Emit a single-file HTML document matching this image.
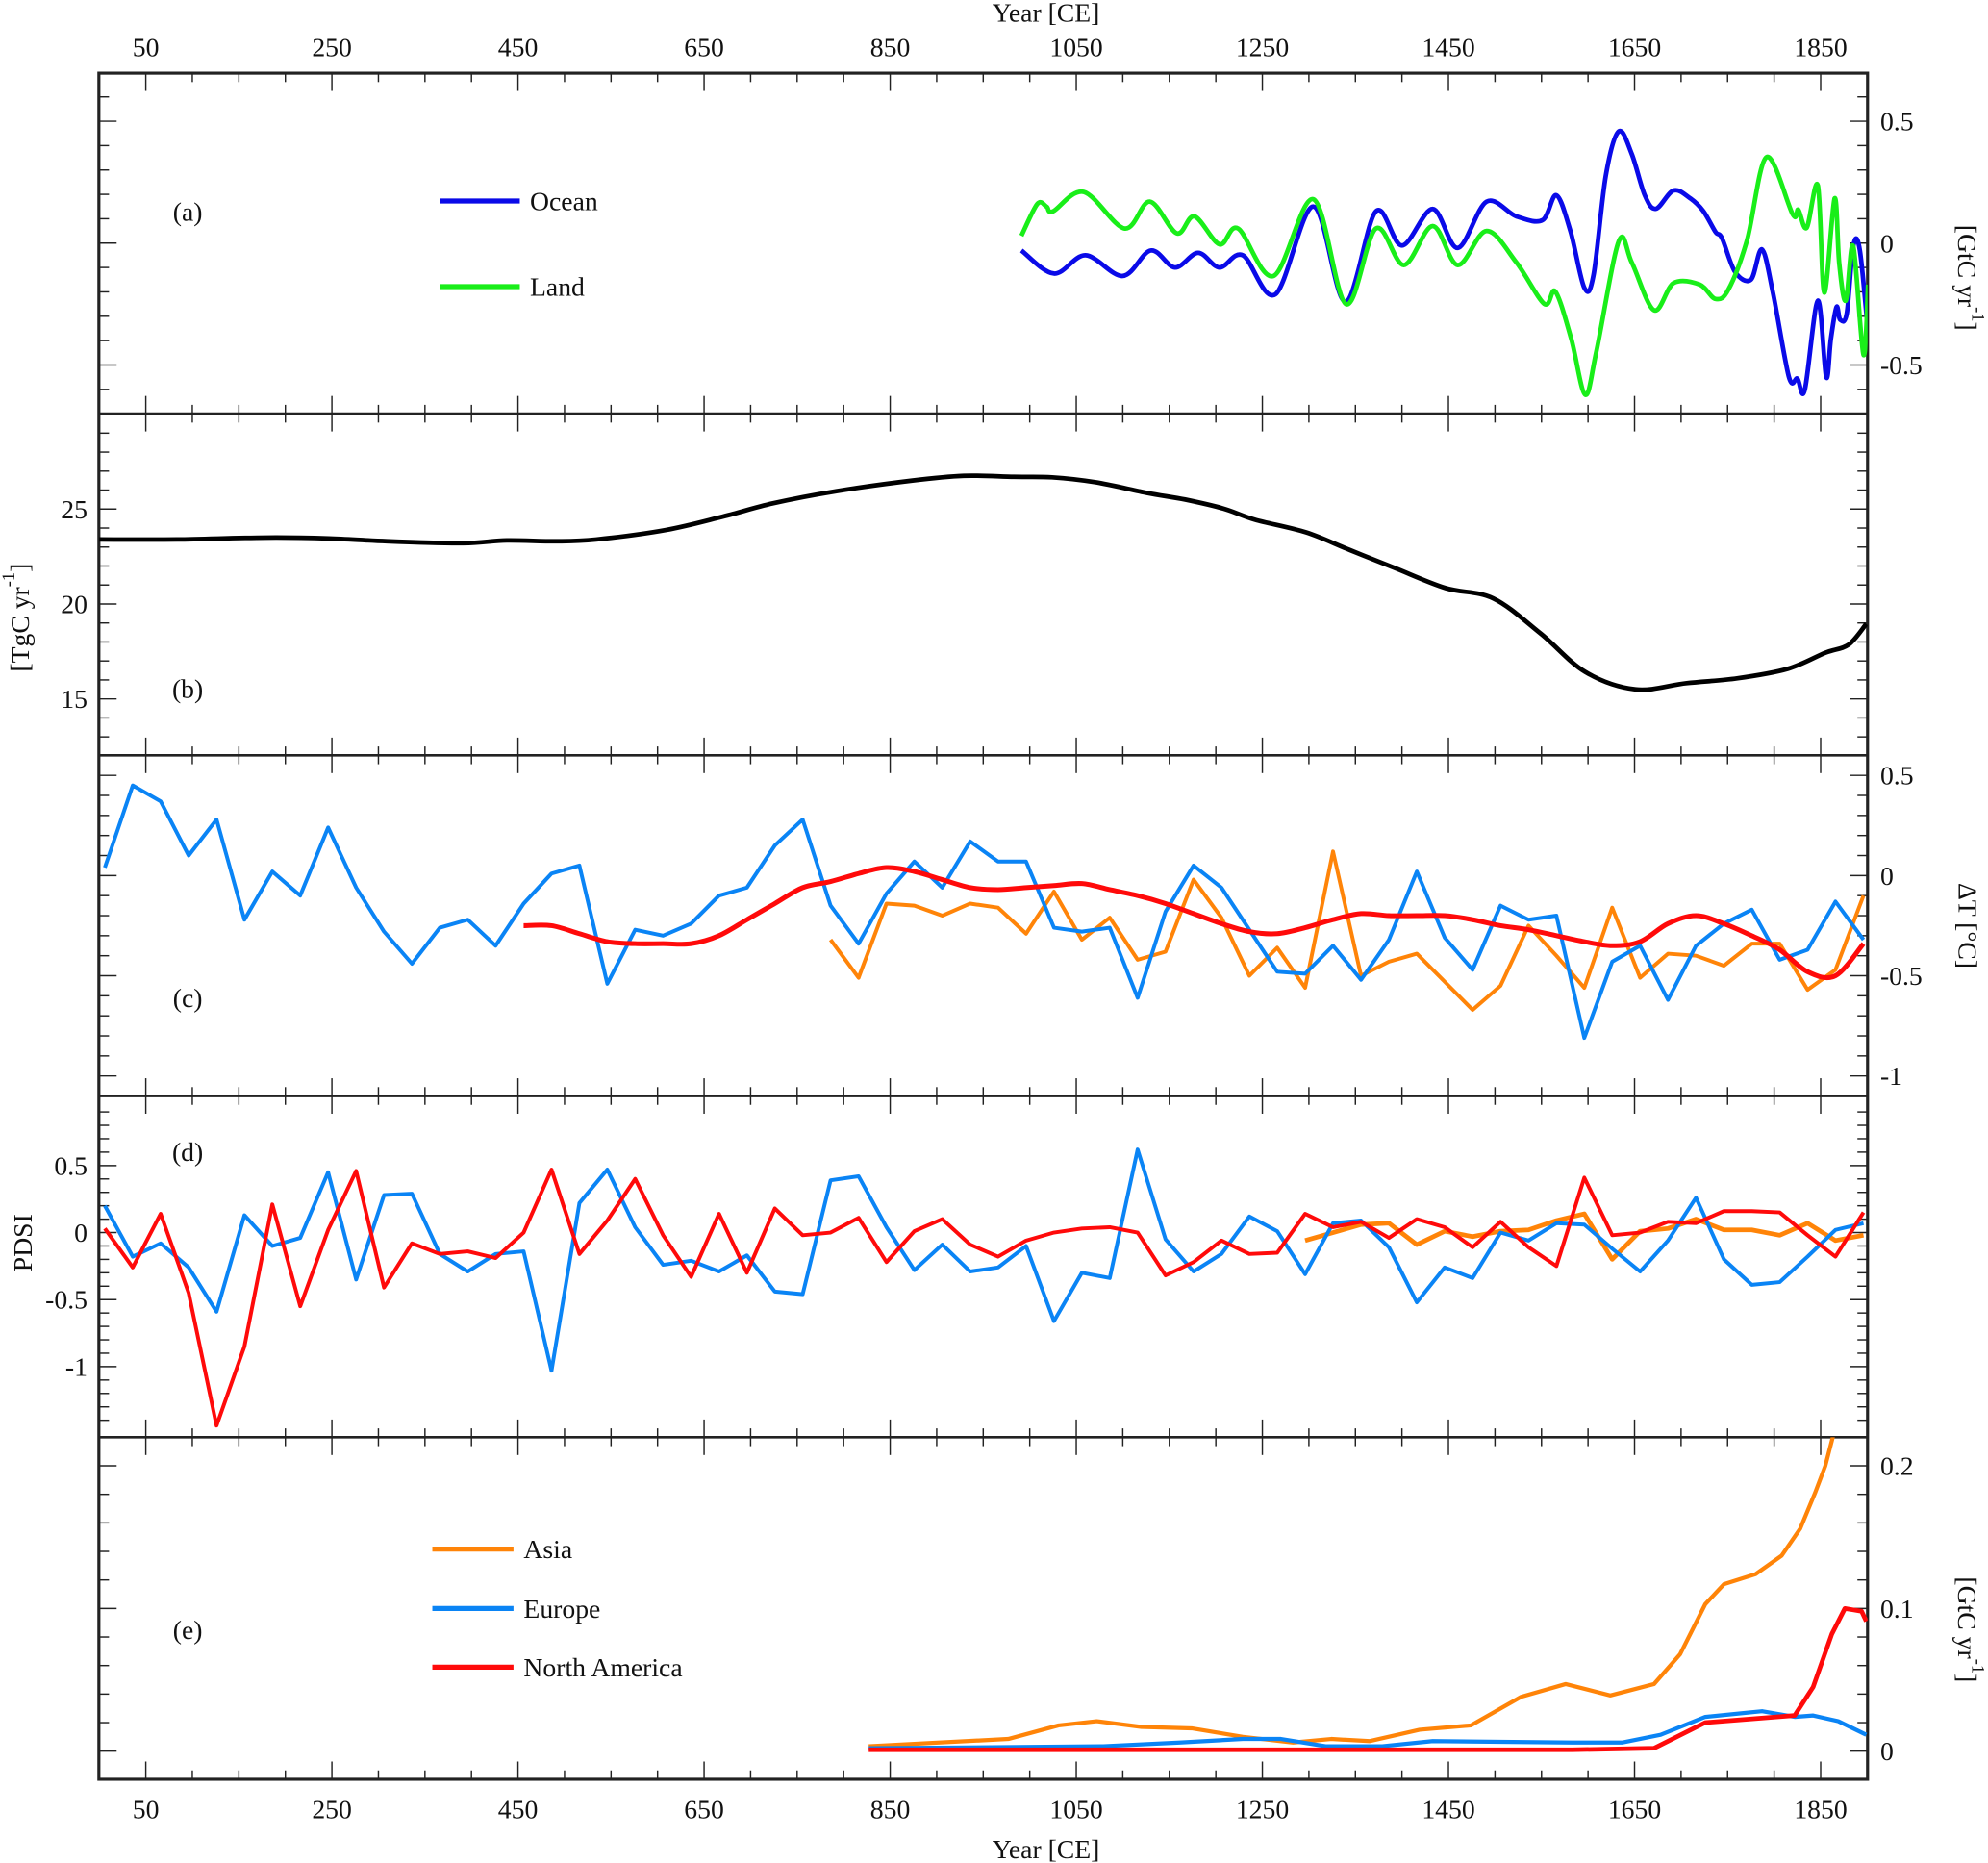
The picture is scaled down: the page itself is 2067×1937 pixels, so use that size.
<!DOCTYPE html>
<html><head><meta charset="utf-8"><title>Carbon flux, temperature and PDSI reconstructions</title>
<style>html,body{margin:0;padding:0;background:#fff}svg{display:block}text{font-family:"Liberation Serif",serif;fill:#111}</style>
</head><body>
<svg id="fig" xmlns="http://www.w3.org/2000/svg" width="2067" height="1937" viewBox="0 0 1568 1469" preserveAspectRatio="none">
<rect x="0" y="0" width="1568" height="1469" fill="#fff"/>
</svg>
<script>
// ---------- panel (a) ----------
const oceanYears = [991,1026,1060,1100,1130,1156,1181,1204,1229,1264,1305,1339,1372,1400,1433,1460,1491,1523,1551,1566,1581,1596,1606,1619,1633,1647,1661,1673,1692,1710,1724,1737,1744,1758,1775,1787,1799,1816,1825,1833,1847,1856,1861,1867,1871,1878,1885,1892,1901];
const oceanVals = [-0.03,-0.125,-0.05,-0.135,-0.03,-0.10,-0.04,-0.10,-0.05,-0.21,0.15,-0.24,0.13,-0.01,0.14,-0.02,0.17,0.11,0.094,0.196,0.05,-0.183,-0.13,0.275,0.458,0.366,0.196,0.141,0.216,0.183,0.131,0.046,0.02,-0.118,-0.15,-0.026,-0.209,-0.55,-0.556,-0.602,-0.236,-0.55,-0.393,-0.262,-0.314,-0.288,-0.013,-0.026,-0.366];
const landYears = [991,1008,1018,1025,1058,1102,1129,1158,1177,1204,1224,1262,1305,1340,1372,1402,1433,1460,1491,1523,1553,1565,1582,1597,1609,1633,1647,1671,1692,1720,1737,1751,1771,1792,1820,1826,1835,1847,1854,1865,1870,1877,1885,1896,1901];
const landVals = [0.03,0.16,0.15,0.13,0.21,0.06,0.17,0.04,0.11,-0.005,0.06,-0.135,0.18,-0.25,0.06,-0.09,0.07,-0.09,0.05,-0.079,-0.249,-0.199,-0.393,-0.622,-0.445,0.007,-0.079,-0.275,-0.164,-0.17,-0.229,-0.19,0.013,0.353,0.118,0.137,0.063,0.236,-0.203,0.183,-0.085,-0.236,-0.013,-0.458,-0.17];
// ---------- panel (b) ----------
const fluxYears = [0,84,179,247,309,391,438,493,534,609,670,724,793,874,929,983,1024,1072,1126,1167,1208,1242,1297,1344,1392,1447,1498,1549,1597,1651,1706,1760,1815,1855,1880,1899];
const fluxVals = [23.4,23.4,23.5,23.45,23.3,23.2,23.35,23.3,23.4,23.9,24.6,25.3,25.95,26.5,26.75,26.7,26.67,26.4,25.85,25.5,25.03,24.44,23.77,22.84,21.9,20.84,20.3,18.45,16.42,15.5,15.83,16.08,16.59,17.43,17.85,18.95];
// ---------- panels (c) & (d): 30-year steps ----------
const stepYears = [6,36,66,96,126,156,186,216,246,276,306,336,366,396,426,456,486,516,546,576,606,636,666,696,726,756,786,816,846,876,906,936,966,996,1026,1056,1086,1116,1146,1176,1206,1236,1266,1296,1326,1356,1386,1416,1446,1476,1506,1536,1566,1596,1626,1656,1686,1716,1746,1776,1806,1836,1866,1896];
const tempEurope = [0.04,0.45,0.37,0.10,0.28,-0.22,0.02,-0.10,0.24,-0.06,-0.28,-0.44,-0.26,-0.22,-0.35,-0.14,0.01,0.05,-0.54,-0.27,-0.30,-0.24,-0.10,-0.06,0.15,0.28,-0.15,-0.34,-0.09,0.07,-0.06,0.17,0.07,0.07,-0.26,-0.28,-0.26,-0.61,-0.18,0.05,-0.06,-0.27,-0.48,-0.49,-0.35,-0.52,-0.32,0.02,-0.31,-0.47,-0.15,-0.22,-0.20,-0.81,-0.43,-0.35,-0.62,-0.35,-0.24,-0.17,-0.42,-0.37,-0.13,-0.32];
const tempAsiaStart = 26;
const tempAsia = [-0.32,-0.51,-0.14,-0.15,-0.20,-0.14,-0.16,-0.29,-0.08,-0.32,-0.21,-0.42,-0.38,-0.02,-0.21,-0.50,-0.36,-0.56,0.12,-0.50,-0.43,-0.39,-0.53,-0.67,-0.55,-0.25,-0.40,-0.56,-0.16,-0.51,-0.39,-0.40,-0.45,-0.34,-0.34,-0.57,-0.47,-0.10];
const tempNAStart = 15;
const tempNA = [-0.25,-0.25,-0.29,-0.33,-0.34,-0.34,-0.34,-0.30,-0.22,-0.14,-0.06,-0.03,0.01,0.04,0.02,-0.02,-0.06,-0.07,-0.06,-0.05,-0.04,-0.07,-0.10,-0.14,-0.19,-0.24,-0.28,-0.29,-0.26,-0.22,-0.19,-0.20,-0.20,-0.20,-0.22,-0.25,-0.27,-0.30,-0.33,-0.35,-0.33,-0.24,-0.20,-0.24,-0.30,-0.37,-0.48,-0.50,-0.34];
const pdsiEurope = [0.20,-0.18,-0.08,-0.26,-0.59,0.13,-0.10,-0.04,0.45,-0.35,0.28,0.29,-0.16,-0.29,-0.16,-0.14,-1.03,0.22,0.47,0.04,-0.24,-0.21,-0.29,-0.17,-0.44,-0.46,0.39,0.42,0.04,-0.28,-0.09,-0.29,-0.26,-0.10,-0.66,-0.30,-0.34,0.62,-0.05,-0.29,-0.16,0.12,0.01,-0.31,0.07,0.09,-0.11,-0.52,-0.26,-0.34,0.00,-0.06,0.07,0.06,-0.12,-0.29,-0.06,0.26,-0.20,-0.39,-0.37,-0.18,0.02,0.07];
const pdsiNA = [0.03,-0.26,0.14,-0.45,-1.44,-0.85,0.21,-0.55,0.02,0.46,-0.41,-0.08,-0.16,-0.14,-0.19,0.00,0.47,-0.16,0.09,0.40,-0.02,-0.33,0.14,-0.30,0.18,-0.02,0.00,0.11,-0.22,0.01,0.10,-0.09,-0.18,-0.06,0.00,0.03,0.04,0.00,-0.32,-0.22,-0.06,-0.16,-0.15,0.14,0.04,0.08,-0.04,0.10,0.04,-0.11,0.08,-0.11,-0.25,0.41,-0.02,0.00,0.08,0.07,0.16,0.16,0.15,-0.02,-0.18,0.15];
const pdsiAsiaStart = 43;
const pdsiAsia = [-0.06,0.00,0.06,0.07,-0.09,0.01,-0.03,0.01,0.02,0.09,0.14,-0.20,0.01,0.03,0.10,0.02,0.02,-0.02,0.07,-0.06,-0.02];
// ---------- panel (e) ----------
const asiaYears = [827,977,1031,1072,1120,1174,1229,1283,1324,1365,1419,1474,1528,1576,1624,1671,1699,1726,1746,1780,1808,1828,1844,1855,1865];
const asiaVals = [0.0035,0.0085,0.018,0.021,0.017,0.016,0.010,0.006,0.0085,0.007,0.015,0.018,0.038,0.047,0.039,0.047,0.068,0.103,0.117,0.124,0.137,0.156,0.181,0.2,0.225];
const europeYears = [827,1079,1161,1229,1270,1318,1379,1433,1583,1637,1678,1726,1787,1822,1842,1869,1899];
const europeVals = [0.002,0.0035,0.006,0.0085,0.0085,0.0035,0.0035,0.007,0.006,0.006,0.0115,0.024,0.028,0.024,0.025,0.021,0.0115];
const naYears = [827,1583,1671,1726,1822,1842,1862,1876,1885,1894,1899];
const naVals = [0.001,0.001,0.002,0.02,0.025,0.045,0.082,0.1,0.099,0.098,0.091];
// ---------- axes ----------
const yearTicks = ["50","250","450","650","850","1050","1250","1450","1650","1850"];
const ticksA = ["0.5","0","-0.5"];
const ticksB = ["25","20","15"];
const ticksC = ["0.5","0","-0.5","-1"];
const ticksD = ["0.5","0","-0.5","-1"];
const ticksE = ["0.2","0.1","0"];

const NS = "http://www.w3.org/2000/svg";
const svg = document.getElementById('fig');
const L = 78, R = 1473;
const FS = 21;
function X(y){ return 115 + (y - 50) * 0.73389; }
const panels = {
  a:{top:57.7,bot:326.2,Y:v=>191.7-v*192.2,minor:[-0.6,0.6,0.1],major:[-0.5,0,0.5]},
  b:{top:326.2,bot:595.6,Y:v=>401.4-(v-25)*14.97,minor:[13,29,1],major:[15,20,25]},
  c:{top:595.6,bot:864.2,Y:v=>690.4-v*158,minor:[-1,0.5,0.1],major:[-1,-0.5,0,0.5]},
  d:{top:864.2,bot:1133.3,Y:v=>971.9-v*105.7,minor:[-1.4,0.9,0.1],major:[-1,-0.5,0,0.5]},
  e:{top:1133.3,bot:1403,Y:v=>1380.8-v*1125,minor:[0,0.22,0.02],major:[0,0.1,0.2]}
};
function mk(tag, attrs, parent){
  const e = document.createElementNS(NS, tag);
  for (const k in attrs) e.setAttribute(k, attrs[k]);
  (parent||svg).appendChild(e);
  return e;
}
const defs = mk('defs',{});
for (const k in panels){
  const p = panels[k];
  const cp = mk('clipPath',{id:'clip-'+k},defs);
  mk('rect',{x:L,y:p.top,width:R-L,height:p.bot-p.top},cp);
}
const tg = mk('g',{stroke:'#222','stroke-width':'1.1',fill:'none'});


const bounds = [57.7,326.2,595.6,864.2,1133.3,1403];
bounds.forEach((by,bi)=>{
  for (let yr=50; yr<=1850; yr+=50){
    const maj = ((yr-50)%200===0);
    const len = maj?14:7;
    const x = X(yr);
    const y1 = bi===0?by:by-len;
    const y2 = bi===bounds.length-1?by:by+len;
    mk('line',{x1:x,x2:x,y1:y1,y2:y2},tg);
  }
});
for (const k in panels){
  const p = panels[k];
  const [a0,a1,st] = p.minor;
  const n = Math.round((a1-a0)/st);
  for (let i=0;i<=n;i++){
    const v = a0+i*st;
    const maj = p.major.some(m=>Math.abs(m-v)<1e-6);
    const len = maj?14:8;
    const y = p.Y(v);
    mk('line',{x1:L,x2:L+len,y1:y,y2:y},tg);
    mk('line',{x1:R-len,x2:R,y1:y,y2:y},tg);
  }
}
const fr = mk('rect',{x:L,y:57.7,width:R-L,height:1403-57.7,fill:'none',stroke:'#222','stroke-width':'2.4'});


[326.2,595.6,864.2,1133.3].forEach(by=>{
  const d = mk('line',{x1:L,x2:R,y1:by,y2:by,stroke:'#222','stroke-width':'2'});
  
  
});
function txt(s, x, y, size, anchor, name, rot){
  const t = mk('text',{x:x,y:y,'font-size':size,'text-anchor':anchor||'start','dominant-baseline':'central'});
  if (rot) t.setAttribute('transform','rotate('+rot+' '+x+' '+y+')');
  t.textContent = s;
  
  
  return t;
}
yearTicks.forEach(s=>{
  const x = X(+s);
  txt(s, x, 37, FS, 'middle', 'top-x-tick-label');
  txt(s, x, 1426.5, FS, 'middle', 'bottom-x-tick-label');
});
txt('Year [CE]', 825, 10, FS, 'middle', 'top-x-axis-title');
txt('Year [CE]', 825, 1458, FS, 'middle', 'bottom-x-axis-title');
ticksA.forEach(s=>txt(s, 1483, panels.a.Y(+s), FS, 'start', 'panel-a-y-tick-label'));
ticksB.forEach(s=>txt(s, 69, panels.b.Y(+s), FS, 'end', 'panel-b-y-tick-label'));
ticksC.forEach(s=>txt(s, 1483, panels.c.Y(+s), FS, 'start', 'panel-c-y-tick-label'));
ticksD.forEach(s=>txt(s, 69, panels.d.Y(+s), FS, 'end', 'panel-d-y-tick-label'));
ticksE.forEach(s=>txt(s, 1483, panels.e.Y(+s), FS, 'start', 'panel-e-y-tick-label'));
function unitTitle(pre, x, y, rot, name){
  const t = mk('text',{x:x,y:y,'font-size':FS,'text-anchor':'middle','dominant-baseline':'central',transform:'rotate('+rot+' '+x+' '+y+')'});
  
  
  const a = mk('tspan',{},t); a.textContent = pre;
  const b = mk('tspan',{dy:'-8','font-size':14},t); b.textContent = '-1';
  const c = mk('tspan',{dy:'8'},t); c.textContent = ']';
}
unitTitle('[GtC yr', 1552, 219, 90, 'panel-a-y-axis-title');
unitTitle('[TgC yr', 15, 487, -90, 'panel-b-y-axis-title');
txt('\u0394T [\u00B0C]', 1552, 730, FS, 'middle', 'panel-c-y-axis-title', 90);
txt('PDSI', 18, 980, FS, 'middle', 'panel-d-y-axis-title', -90);
unitTitle('[GtC yr', 1552, 1285, 90, 'panel-e-y-axis-title');
txt('(a)', 148, 167, FS, 'middle', 'panel-a-label');
txt('(b)', 148, 543, FS, 'middle', 'panel-b-label');
txt('(c)', 148, 787, FS, 'middle', 'panel-c-label');
txt('(d)', 148, 908, FS, 'middle', 'panel-d-label');
txt('(e)', 148, 1285, FS, 'middle', 'panel-e-label');
function pts(years, vals, Y){ return years.map((yr,i)=>[X(yr), Y(vals[i])]); }
function linePath(p){ return p.map((q,i)=>(i?'L':'M')+q[0].toFixed(1)+' '+q[1].toFixed(1)).join(''); }
function smoothPath(p){
  let d = 'M'+p[0][0].toFixed(1)+' '+p[0][1].toFixed(1);
  for (let i=0;i<p.length-1;i++){
    const p0=p[i-1]||p[i], p1=p[i], p2=p[i+1], p3=p[i+2]||p2;
    const c1=[p1[0]+(p2[0]-p0[0])/6, p1[1]+(p2[1]-p0[1])/6];
    const c2=[p2[0]-(p3[0]-p1[0])/6, p2[1]-(p3[1]-p1[1])/6];
    d += 'C'+c1[0].toFixed(1)+' '+c1[1].toFixed(1)+' '+c2[0].toFixed(1)+' '+c2[1].toFixed(1)+' '+p2[0].toFixed(1)+' '+p2[1].toFixed(1);
  }
  return d;
}
function series(panel, p, color, width, smooth, name){
  const e = mk('path',{d: smooth?smoothPath(p):linePath(p), fill:'none', stroke:color,'stroke-width':width,'stroke-linejoin':'round','clip-path':'url(#clip-'+panel+')'});
  
  
}
const BLUE_OCEAN='#0a0ae8', GREEN='#19ee19', EURO='#0a84f5', ASIA='#ff8408', RED='#ff0a0a';
series('a', pts(oceanYears, oceanVals, panels.a.Y), BLUE_OCEAN, 3.6, true, 'ocean-line');
series('a', pts(landYears, landVals, panels.a.Y), GREEN, 3.6, true, 'land-line');
series('b', pts(fluxYears, fluxVals, panels.b.Y), '#000', 3.6, true, 'flux-line');
series('c', pts(stepYears.slice(tempAsiaStart, tempAsiaStart+tempAsia.length), tempAsia, panels.c.Y), ASIA, 3, false, 'temp-asia-line');
series('c', pts(stepYears, tempEurope, panels.c.Y), EURO, 3, false, 'temp-europe-line');
series('c', pts(stepYears.slice(tempNAStart, tempNAStart+tempNA.length), tempNA, panels.c.Y), RED, 3.8, true, 'temp-north-america-line');
series('d', pts(stepYears.slice(pdsiAsiaStart, pdsiAsiaStart+pdsiAsia.length), pdsiAsia, panels.d.Y), ASIA, 3.6, false, 'pdsi-asia-line');
series('d', pts(stepYears, pdsiEurope, panels.d.Y), EURO, 3, false, 'pdsi-europe-line');
series('d', pts(stepYears, pdsiNA, panels.d.Y), RED, 3, false, 'pdsi-north-america-line');
series('e', pts(asiaYears, asiaVals, panels.e.Y), ASIA, 3.2, false, 'emission-asia-line');
series('e', pts(europeYears, europeVals, panels.e.Y), EURO, 3.2, false, 'emission-europe-line');
series('e', pts(naYears, naVals, panels.e.Y), RED, 3.6, false, 'emission-north-america-line');
function legend(x1, x2, y, color, label, name){
  const g = mk('g',{});
  
  
  mk('line',{x1:x1,x2:x2,y1:y,y2:y,stroke:color,'stroke-width':4},g);
  const t = mk('text',{x:x2+8,y:y,'font-size':FS,'dominant-baseline':'central'},g);
  t.textContent = label;
}
legend(347, 410, 158.5, BLUE_OCEAN, 'Ocean', 'legend-entry-ocean');
legend(347, 410, 226, GREEN, 'Land', 'legend-entry-land');
legend(341, 405, 1221.5, ASIA, 'Asia', 'legend-entry-asia');
legend(341, 405, 1268.3, EURO, 'Europe', 'legend-entry-europe');
legend(341, 405, 1314.6, RED, 'North America', 'legend-entry-north-america');
</script>
</body></html>
